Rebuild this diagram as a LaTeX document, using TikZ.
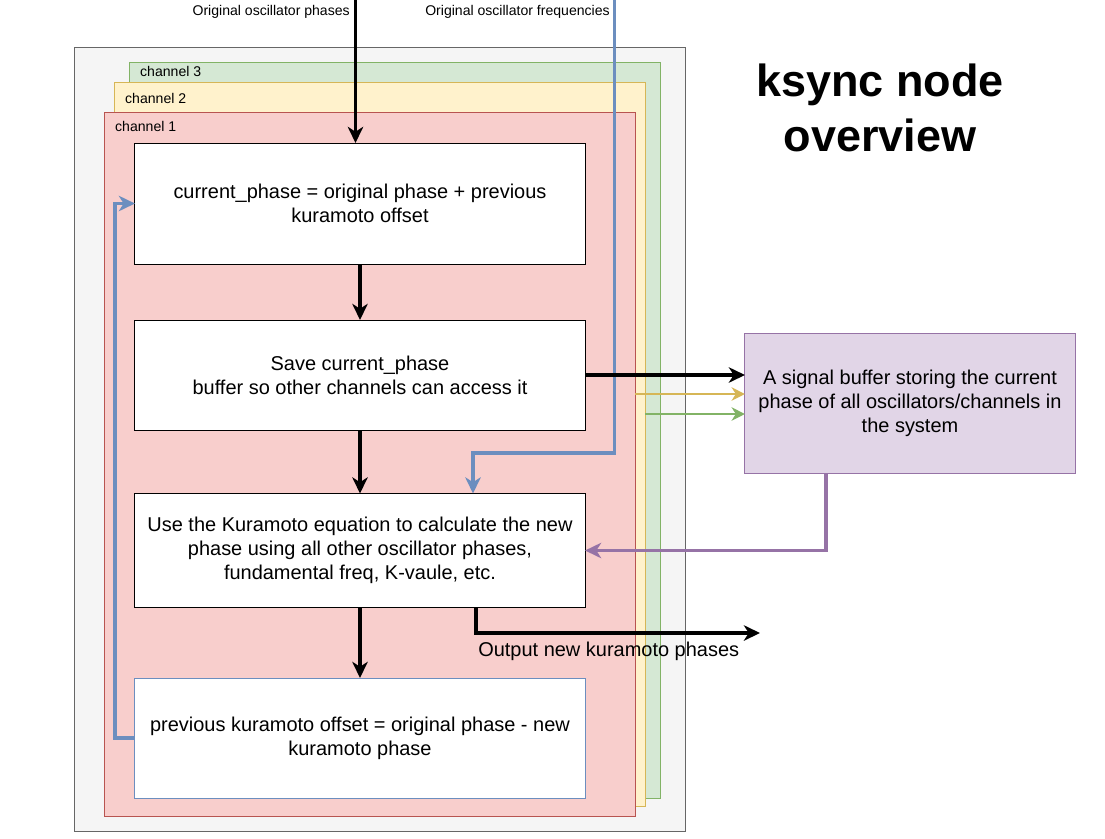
\documentclass[tikz,border=0pt]{standalone}
\usepackage{fontspec}
\setmainfont{Liberation Sans}
\usepackage{xcolor}
\usepackage{tikz}
\usetikzlibrary{calc}
\usetikzlibrary{arrows.meta}
\usetikzlibrary{positioning}
\definecolor{grayfill}{HTML}{F5F5F5}
\definecolor{graydraw}{HTML}{666666}
\definecolor{greenfill}{HTML}{D5E8D4}
\definecolor{greendraw}{HTML}{82B366}
\definecolor{yellowfill}{HTML}{FFF2CC}
\definecolor{yellowdraw}{HTML}{D6B656}
\definecolor{redfill}{HTML}{F8CECC}
\definecolor{reddraw}{HTML}{B85450}
\definecolor{purplefill}{HTML}{E1D5E7}
\definecolor{purpledraw}{HTML}{9673A6}
\definecolor{bluedraw}{HTML}{6C8EBF}
\tikzset{>={Stealth[length=11.5pt,width=11pt,inset=3.5pt]}}
\tikzstyle{chan} = [rectangle, inner sep=0, outer sep=0, line width=0.7pt]
\tikzstyle{chanlbl} = [draw=none, anchor=west, inner sep=0, font=\fontsize{10}{12}\selectfont]
\tikzstyle{smalllbl} = [draw=none, inner sep=0, font=\fontsize{10}{12}\selectfont]
\tikzstyle{procbox} = [rectangle, draw=black, fill=white, line width=0.7pt, inner sep=0, outer sep=0, minimum width=11.25cm, align=center, font=\fontsize{14.2}{17}\selectfont]
\tikzstyle{flow} = [->, line width=2.5pt]
\tikzstyle{thinflow} = [-{Stealth[length=9.5pt,width=9.5pt,inset=3pt]}, line width=2pt]

\begin{document}
\begin{tikzpicture}[x=0.025cm, y=-0.025cm]
\useasboundingbox (0,0) rectangle (1105,838);
% channel stack
\node [chan, fill=grayfill, draw=graydraw, minimum width=15.25cm, minimum height=19.575cm] (outer) at (380,439.5) {};
\node [chan, fill=greenfill, draw=greendraw, minimum width=13.25cm, minimum height=18.375cm] (ch3) at (395,430.5) {};
\node [chanlbl] (ch3lbl) at ($(ch3.north west)+(10,9)$) {channel 3};
\node [chan, fill=yellowfill, draw=yellowdraw, minimum width=13.25cm, minimum height=18.075cm] (ch2) at (380,444.5) {};
\node [chanlbl] (ch2lbl) at ($(ch2.north west)+(10,16)$) {channel 2};
\node [chan, fill=redfill, draw=reddraw, minimum width=13.25cm, minimum height=17.575cm] (ch1) at (370,464.5) {};
\node [chanlbl] (ch1lbl) at ($(ch1.north west)+(10,14)$) {channel 1};

\node [procbox, minimum height=3.025cm] (cur) at (360,203.5) {current\_phase = original phase + previous\\kuramoto offset};
\node [procbox, minimum height=2.75cm] (save) at (360,375) {Save current\_phase\\buffer so other channels can access it};
\node [procbox, minimum height=2.85cm] (kura) at (360,550.5) {Use the Kuramoto equation to calculate the new\\phase using all other oscillator phases,\\fundamental freq, K-vaule, etc.};
\node [procbox, draw=bluedraw, minimum height=3cm] (prev) at (360,738) {previous kuramoto offset = original phase - new\\kuramoto phase};
\node [procbox, fill=purplefill, draw=purpledraw, minimum width=8.25cm, minimum height=3.5cm] (buf) at (910,403) {A signal buffer storing the current\\phase of all oscillators/channels in\\the system};
\node [draw=none, align=center, font=\fontsize{32}{39}\selectfont\bfseries] (title) at (880,108) {ksync node\\overview};

\coordinate (phin) at (355.5,0);
\coordinate (frin) at (614.5,0);
\coordinate (frbend) at (473,453);
\coordinate (outend) at (760,633);
\coordinate (ylw) at (0,394);
\coordinate (grn) at (0,414);
\node [smalllbl, anchor=east] (phinlbl) at (350,12) {Original oscillator phases};
\node [smalllbl, anchor=east] (frinlbl) at (610,12) {Original oscillator frequencies};
\node [draw=none, inner sep=0, anchor=west, font=\fontsize{14.2}{17}\selectfont] (outlbl) at (478,651) {Output new kuramoto phases};

\draw [flow] (phin) -- (phin |- cur.north);
\draw [flow, color=bluedraw] (frin) |- (frbend) -- (frbend |- kura.north);
\draw [flow] (cur.south) -- (save.north);
\draw [flow] (save.south) -- (kura.north);
\draw [flow] (kura.south) -- (prev.north);
\draw [flow] (save.east) -- (save.east -| buf.west);
\draw [thinflow, color=yellowdraw] (ch1.east |- ylw) -- (buf.west |- ylw);
\draw [thinflow, color=greendraw] (ch2.east |- grn) -- (buf.west |- grn);
\draw [flow, color=purpledraw] ($(buf.south)+(-84,0)$) |- (kura.east);
\draw [flow] ($(kura.south)+(116,0)$) |- (outend);
\draw [flow, color=bluedraw] (prev.west) -- ++(-20,0) |- (cur.west);
\end{tikzpicture}
\end{document}
